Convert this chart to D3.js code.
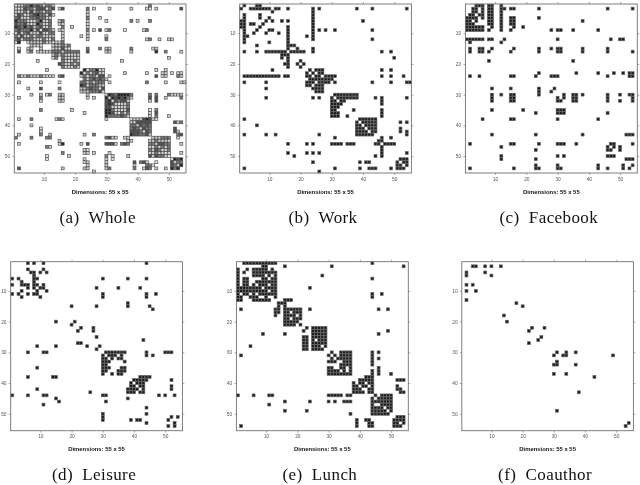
<!DOCTYPE html>
<html><head><meta charset="utf-8">
<script src="https://cdn.jsdelivr.net/npm/d3@7/dist/d3.min.js"></script>
<style>html,body{margin:0;padding:0;background:#fff}svg{display:block;filter:blur(0.35px)}</style></head>
<body><svg id="c" width="640" height="485"></svg>
<script>
// each entry: [row, "columns"]
const whole = [[1,"1-13 44"],[2,"1-13 15 16 24 26 31 38 43 44 46 54"],[3,"1-12 24"],[4,"1-13 24"],[5,"1-12 24 28"],[6,"1-12 15 16 24 30 38 40 44"],[7,"1-12 15 16 24"],[8,"1-12 16 19 24"],[9,"1-13 15 16 24 26 28 30 31 36 42 43"],[10,"1-13 16 24"],[11,"1-13 16 22 24 30"],[12,"1-13 16 24 30 43 44 47 50 51"],[13,"1 2 5-15 16"],[14,"6-9 13-18"],[15,"2 5 6 9 13-18 24 28 30 31 38 45 46"],[16,"2 5 6 8-21 24 30 31 38 46 49 54"],[17,"13-21"],[18,"13 14 16-21 50"],[19,"8 16-21 35"],[20,"15-21"],[21,"16-21"],[22,"11 23-29 46 49"],[23,"22-29 36 43 48 49 51 53 54"],[24,"2-13 15 16 22-29 31 46 48 49 53 54"],[25,"23-30"],[26,"2 9 15 22-29 31 43 49 54 55"],[27,"22-29"],[28,"5 9 15 22-29"],[29,"22-29"],[30,"6 9 11 12 15 16 24 30-38 44 46 50-54"],[31,"2 9 15 16 24 26 30-38 44 46 49 54"],[32,"9 15 16 30-37 44 46"],[33,"30-37"],[34,"30-37"],[35,"9 19 30-37 44 46"],[36,"23 30-37 44 46"],[37,"30-37 44 46 50"],[38,"2 6 14 15 16 30 38-46"],[39,"38-44 52 53 54"],[40,"6 38-44"],[41,"9 38-44 52"],[42,"9 38-44 52 53"],[43,"2 9 12 23 26 38-44 53 54"],[44,"1 6 11 12 30-33 36 37 45-50 53"],[45,"15 37 38 44-50"],[46,"2 15 16 22 24 30-33 35 36 37 44-50 54"],[47,"11 12 44-50"],[48,"23 24 44-50"],[49,"16 23 24 26 31 44-50 54"],[50,"11 18 30 32 37 44-50"],[51,"11 23 30 32 51-54"],[52,"23 24 30 39 41 42 43 46 51-54"],[53,"24 30 39 43 44 45 51-54"],[54,"2 16 23 24 30 31 39 42 43 44 46 49 51 52 53"],[55,"26"]];
const work = [[1,"2 6 7"],[2,"1 4-10 12 13 16 24 26 38 43 54"],[3,"11 24"],[4,"2 7 24"],[5,"2 7 10 24"],[6,"1 2 9 11 14 16 24 40"],[7,"1 2 4 5 8 24"],[8,"1 2 7 16 24"],[9,"2 6 10 11 16 24 26 28 31 43"],[10,"2 5 9 13 16 24"],[11,"2 3 16 22 24"],[12,"2 16 24 43"],[13,"2 10 16"],[14,"6 16 17 18"],[15,"16 19 24"],[16,"2 6 9-15 17-21 24 46 49"],[17,"14 15 16"],[18,"14 16 50"],[19,"16 20"],[20,"15 16 19 21"],[21,"16 20"],[22,"11 23 25 26 27 46 49"],[23,"22 24 26 27"],[24,"2-13 15 16 22 23 25 26 28 29 30 31 46 49 53"],[25,"23-30"],[26,"2 9 22 23 24 26-29 31 43 49 54 55"],[27,"22 23 25 26 27"],[28,"9 24-27"],[29,"25 26 27"],[30,"31-38"],[31,"9 24 26 30 32-38 44 46 54"],[32,"30 31 33 34 46"],[33,"30-33 46"],[34,"30 31 32"],[35,"30 31 37 46"],[36,"30 31 32 46"],[37,"30 31 32 35 46"],[38,"2 39-44"],[39,"38 40-44 52 54"],[40,"6 38 39 41-44"],[41,"38 39 40 42 43 44 52"],[42,"38-41 43 44 52 54"],[43,"2 9 12 26 38-43 54"],[44,"31 46 49"],[45,"45 46"],[46,"16 22 24 30-33 35 36 37 44 45 47-50"],[47,"46"],[48,"46"],[49,"16 22 24 26 46 54"],[50,"18 44 46"],[51,"52 53 54"],[52,"24 39 41 42 51 53 54"],[53,"51 52 54"],[54,"2 31 39 42 43 44 49 51 52 53"],[55,"26"]];
const facebook = [[1,"4 5 6 8 9 12"],[2,"3 4 6 8 9 12 13 15 16 24 46 54"],[3,"3 4 6 8 9 12"],[4,"2 3 5 6 8 9 12"],[5,"1-4 6 8 9 12 15 16 24"],[6,"1 2 4 8 9 12 15 16 38"],[7,"1 2 3 8 9 12 15 16"],[8,"1-6 9 12 16 19"],[9,"1-6 8 12 15 28 30 31 35 43"],[12,"1-6 8 9 13 30 47 50 51"],[13,"2 12"],[15,"2 5 6 9 16 24 28 30 31 38 46"],[16,"2 5 6 8 15 24 30 31 38 46 54"],[19,"8 35"],[23,"24 36 43 48 51 53 54"],[24,"2 5 15 16 23 28 29 30 46 53 54"],[28,"9 15 24 29"],[29,"24 28"],[30,"9 12 15 16 24 32 35 36 38 46 50 53 54"],[31,"9 15 16 30 32 35 36 46 54"],[32,"9 15 16 30 31 35 36 46 50 54"],[35,"9 19 30 31 32"],[36,"23 30 31 32 46"],[38,"6 15 16 30 43"],[43,"9 23 38 52 53 54"],[46,"2 15 16 24 30 31 32 36 47 48 54"],[47,"12 46 48 50"],[48,"23 46 47 50"],[50,"12 30 32 46 47 48"],[51,"12 23 52 53 54"],[53,"23 30 43 51 54"],[54,"2 16 23 24 30 31 43 46 51 53"]];
const leisure = [[1,"6 8 11 44"],[3,"6 11"],[4,"7 8 10 12"],[5,"8"],[6,"1 3 8 9 30 38 44"],[7,"4 8"],[8,"1 4 5 6 8 9 11"],[9,"6 8 10 11 28 35 42"],[10,"4 9 12"],[11,"1 3 6 8 9 30 44 47"],[12,"4 10 30 44"],[14,"38"],[15,"20 28 38 45"],[16,"46"],[20,"15 21"],[21,"20"],[22,"23 27"],[23,"22 27"],[25,"28"],[26,"43"],[27,"22 23"],[28,"9 15 25 29"],[29,"28"],[30,"6 11 12 31-37 44 50 51 52"],[31,"30 32 33 34 36 44 46"],[32,"30 31 33 35 36"],[33,"30 31 32 37"],[34,"30 31"],[35,"9 30 31 32 36 37"],[36,"30 31 35 36 37"],[37,"30 33 35 36"],[38,"6 14 15 42 43 44 45"],[39,"40-44 52"],[40,"39 41 42 43"],[41,"39 40 42 43 52"],[42,"9 38 39 40 41 43 52"],[43,"26 38 39 40 42 43"],[44,"1 6 11 12 30 31 48 50 53"],[45,"15 38"],[46,"16 31"],[47,"11"],[48,"44"],[50,"30 44"],[51,"30 52 54"],[52,"30 39 41 42 51"],[53,"44 53"],[54,"51 53"]];
const lunch = [[1,"3-13 44"],[2,"9 10 16 31 54"],[3,"1 4 6-10 12"],[4,"1 3 6-13"],[5,"1 6-9 11 13 28"],[6,"1 3 4 9 10 12 13 44"],[7,"1 3 4 7-13"],[8,"1 3 4 6 8 9 10 12 13"],[9,"1-8 10-13 24"],[10,"1-10 12 13"],[11,"1 3 4 6 8-13 44 47"],[12,"1 2 5 6 7 10 13 44"],[13,"1 2 6-11 16 17 18"],[14,"14 15 16"],[15,"14 16"],[16,"2 13 14 16-21 24 46 49"],[17,"13 14 16 17 19 20 21"],[18,"13 16-19 21"],[19,"16 17 19 20 21"],[20,"16-20"],[21,"16-19 21"],[22,"23 25-29"],[23,"22 25-29 49"],[24,"9 16 25-29 46"],[25,"22 23 25-29"],[26,"22 23 25 27 28 29"],[27,"22 23 25-29"],[28,"5 22 23 25 26 27 29"],[29,"22 23 25-28"],[30,"31 34-37 44 46"],[31,"2 30 32 34-37 44"],[32,"31 33-37 44 46"],[33,"30 31 32 35 36 37 44"],[34,"34-37 44"],[35,"30 31 34 35 37 46"],[36,"30-33 35 37 44 46"],[37,"30-37 44 46 50"],[38,"42 43 44"],[39,"40-44 52 53 54"],[40,"38 40 41 43 44"],[41,"38 39 41 42 44 52"],[42,"38 39 40 43 44 52 53"],[43,"38-41 43 44 53 54"],[44,"1 6 11 12 30-34 36 37 45 47-50"],[45,"44 46-50"],[46,"16 24 30 32 35 36 37 44-50"],[47,"11 44 47-50"],[48,"44-47 49 50"],[49,"16 23 44-48 50"],[50,"37 44-49"],[51,"52 53 54"],[52,"39 42 43 51-54"],[53,"39 43 44 51 52 54"],[54,"2 39 43 44 51 52 53"]];
const coauthor = [[2,"4 5 8 10 13"],[4,"2 8"],[5,"2 10"],[8,"2 4"],[10,"2 5"],[13,"2"],[14,"18"],[15,"20"],[18,"14"],[20,"15"],[22,"23 27"],[23,"22"],[25,"26"],[26,"25"],[27,"22"],[30,"31 34 37"],[31,"30 33 34 49"],[33,"31"],[34,"30 31 37"],[37,"30 34"],[38,"43"],[43,"38"],[49,"31"],[53,"54"],[54,"53"]];
const captions = ["(a)  Whole","(b)  Work","(c)  Facebook","(d)  Leisure","(e)  Lunch","(f)  Coauthor"];
const tickValues = [10,20,30,40,50];
const dimensionLabel = "Dimensions: 55 x 55";

function cells(rows){
  const out=[];
  rows.forEach(([r,spec])=>spec.split(" ").forEach(t=>{
    const [a,b]=t.split("-").map(Number);
    for(const c of d3.range(a,(b===undefined?a:b)+1)) out.push({r,c});
  }));
  return out;
}
const layerSets=[work,facebook,leisure,lunch,coauthor].map(l=>new Set(cells(l).map(d=>d.r+"-"+d.c)));
const layerCount=d=>layerSets.filter(s=>s.has(d.r+"-"+d.c)).length;
const wholeShade=d3.scaleLinear().domain([0,1,2,4]).range(["#e2e2e2","#cfcfcf","#7a7a7a","#222222"]).clamp(true);

const svg=d3.select("#c");
const frames=[
 {data:whole,x:[14.3,186],y:[4,173],w:true},
 {data:work,x:[239.7,411.4],y:[4,173]},
 {data:facebook,x:[465.4,637.3],y:[4,173]},
 {data:leisure,x:[10.7,182.4],y:[261.7,430.7]},
 {data:lunch,x:[236.4,408.3],y:[261.7,430.7]},
 {data:coauthor,x:[461.8,633.4],y:[261.7,430.7]}
];
frames.forEach((f,i)=>{
  const x=d3.scaleLinear().domain([0.5,55.5]).range(f.x);
  const y=d3.scaleLinear().domain([0.5,55.5]).range(f.y);
  const g=svg.append("g");
  const cw=x(1.5)-x(0.5), ch=y(1.5)-y(0.5);
  g.append("g").selectAll("rect").data(cells(f.data)).join("rect")
    .attr("x",d=>x(d.c-0.5)+0.1).attr("y",d=>y(d.r-0.5)+0.1)
    .attr("width",cw-0.2).attr("height",ch-0.2)
    .attr("fill",d=>f.w?wholeShade(layerCount(d)):"#1c1c1c")
    .attr("stroke",f.w?"#4a4a4a":"#666").attr("stroke-width",f.w?0.65:0.65);
  g.append("rect").attr("x",f.x[0]).attr("y",f.y[0])
    .attr("width",f.x[1]-f.x[0]).attr("height",f.y[1]-f.y[0])
    .attr("fill","none").attr("stroke","#707070").attr("stroke-width",0.9);
  const tc="#707070", fs=4.8;
  const axes=[
    [d3.axisBottom(x),`translate(0,${f.y[1]})`,true],
    [d3.axisTop(x),`translate(0,${f.y[0]})`,false],
    [d3.axisLeft(y),`translate(${f.x[0]},0)`,true],
    [d3.axisRight(y),`translate(${f.x[1]},0)`,false]
  ];
  axes.forEach(([ax,tr,lab])=>{
    const a=g.append("g").attr("transform",tr)
      .call(ax.tickValues(tickValues).tickSize(2).tickPadding(2.2).tickFormat(lab?d3.format("d"):""));
    a.select(".domain").remove();
    a.selectAll("line").attr("stroke",tc).attr("stroke-width",0.6);
    a.selectAll("text").attr("fill","#555").attr("font-family","Liberation Sans").attr("font-size",fs);
  });
  const cx=(f.x[0]+f.x[1])/2;
  g.append("text").attr("x",cx).attr("y",f.y[1]+20.5).attr("text-anchor","middle")
    .attr("font-family","Liberation Sans").attr("font-size",5.9).attr("font-weight","bold").attr("fill","#111")
    .text(dimensionLabel);
  g.append("text").attr("x",cx-2.5).attr("y",f.y[1]+49.5).attr("text-anchor","middle")
    .attr("font-family","Liberation Serif").attr("font-size",17).attr("letter-spacing",0.4).attr("fill","#111")
    .style("white-space","pre").text(captions[i]);
});
</script></body></html>
